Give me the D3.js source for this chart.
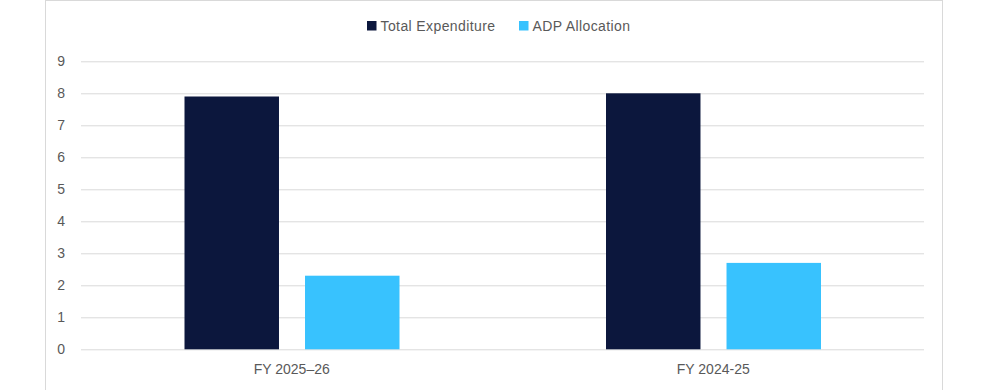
<!DOCTYPE html>
<html><head><meta charset="utf-8">
<script src="https://cdn.jsdelivr.net/npm/d3@7"></script>
<style>body{margin:0;background:#fff;}svg{display:block;font-family:"Liberation Sans",Arial,sans-serif;}</style>
</head><body>
<svg id="c" width="982" height="390"></svg>
<script>
const categories = ["FY 2025\u201326", "FY 2024-25"];
const seriesNames = ["Total Expenditure", "ADP Allocation"];
const totalExpenditure = [7.9, 8.0];
const adpAllocation = [2.3, 2.7];
const yTicks = [0,1,2,3,4,5,6,7,8,9];
const colors = ["#0c173d", "#38c2fe"];

const svg = d3.select("#c");
svg.append("rect").attr("x",45.5).attr("y",0.5).attr("width",897).attr("height",400)
  .attr("fill","#fff").attr("stroke","#d9d9d9");

const x = d3.scaleBand().domain(categories).range([81,924]);
const y = d3.scaleLinear().domain([0,9]).range([349.3,61.3]);
const xs = d3.scaleBand().domain(seriesNames).range([103.5,318.5]).paddingInner(0.216).paddingOuter(0);

const yAxis = d3.axisLeft(y).tickValues(yTicks).tickSize(-(924-81)).tickPadding(16);
const gy = svg.append("g").attr("transform","translate(81,0)").call(yAxis);
gy.select(".domain").remove();
gy.selectAll(".tick line").attr("stroke","#d9d9d9").attr("stroke-width",1);
gy.selectAll(".tick text").attr("fill","#595959").attr("font-size",14).attr("font-family","Liberation Sans, Arial");

const xAxis = d3.axisBottom(x).tickSize(0).tickPadding(15);
const gx = svg.append("g").attr("transform","translate(0,349.3)").call(xAxis);
gx.select(".domain").remove();
gx.selectAll(".tick text").attr("fill","#595959").attr("font-size",14).attr("font-family","Liberation Sans, Arial");

const data = categories.map((c,i)=>({c, vals:[totalExpenditure[i], adpAllocation[i]]}));
const groups = svg.append("g").selectAll("g").data(data).join("g")
  .attr("transform",d=>`translate(${x(d.c)},0)`);
groups.selectAll("rect").data(d=>d.vals.map((v,j)=>({s:seriesNames[j],v,j}))).join("rect")
  .attr("x",d=>xs(d.s)).attr("width",xs.bandwidth())
  .attr("y",d=>y(d.v)).attr("height",d=>y(0)-y(d.v))
  .attr("fill",d=>colors[d.j]);

const legendX = [367, 519];
const lg = svg.append("g").selectAll("g").data(seriesNames).join("g")
  .attr("transform",(d,i)=>`translate(${legendX[i]},21)`);
lg.append("rect").attr("width",9.5).attr("height",9.5).attr("fill",(d,i)=>colors[i]);
lg.append("text").attr("x",13.5).attr("y",9.5).text(d=>d).attr("fill","#595959").attr("font-size",14).attr("letter-spacing",0.4);
</script>
</body></html>
